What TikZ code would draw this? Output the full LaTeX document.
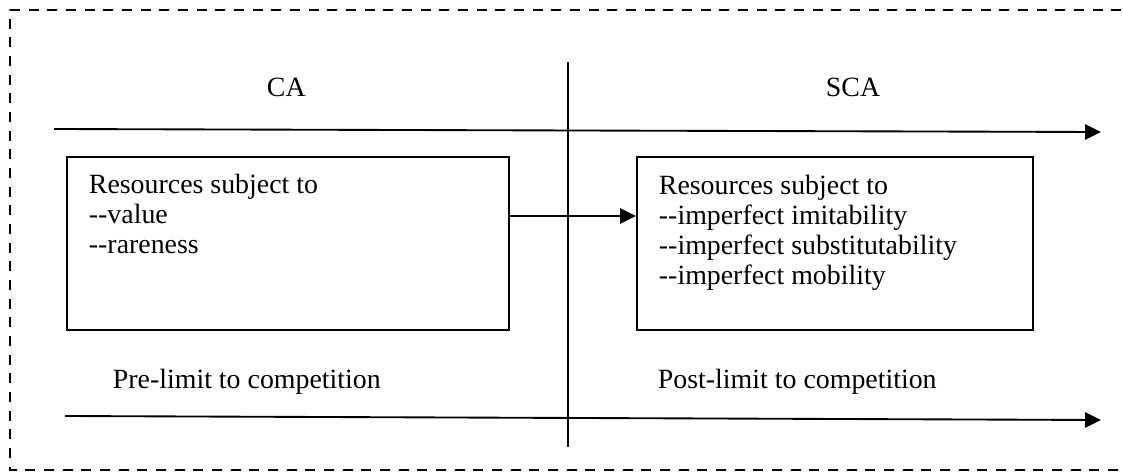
\documentclass[tikz,border=0pt]{standalone}
\usepackage{fontspec}
\setmainfont{Liberation Serif}[Ligatures=TeXOff]
\usetikzlibrary{arrows.meta}
\begin{document}
\begin{tikzpicture}[x=0.75pt,y=-0.75pt,
  line width=1.4pt,
  every node/.style={font=\fontsize{20.9}{22.5}\selectfont, inner sep=0pt},
  frame/.style={line width=1.7pt, dash pattern=on 7.5pt off 6.5pt},
  flow/.style={-{Triangle[length=12pt,width=11.5pt]}},
  resbox/.style={draw, rectangle, anchor=north west, minimum height=129.75pt},
  label/.style={anchor=base west},
  listtext/.style={anchor=north west, align=left}]
  \useasboundingbox (0,0) rectangle (1123,471);

  % dashed surround (open on the right)
  \draw[frame] (1140,10) -- (10,10) -- (10,470) -- (1140,470);

  % divider between the two phases
  \coordinate (vtop) at (568,62);
  \coordinate (vbot) at (568,447);
  \draw (vtop) -- (vbot);

  % phase headings
  \node[label] (ca)  at (266,96) {CA};
  \node[label] (sca) at (825,96) {SCA};

  % upper time axis
  \coordinate (ts) at (54,129);
  \coordinate (te) at (1101,132);
  \draw[flow] (ts) -- (te);

  % resource boxes
  \node[resbox, minimum width=331.5pt] (lbox) at (66,156) {};
  \node[resbox, minimum width=297pt]   (rbox) at (636,156) {};
  \node[listtext] (ltext) at (88,173) {Resources subject to\\--value\\--rareness};
  \node[listtext] (rtext) at (658,174) {Resources subject to\\--imperfect imitability\\--imperfect substitutability\\--imperfect mobility};

  \coordinate (mid) at (0,216);
  \draw[flow] (lbox.east |- mid) -- (rbox.west |- mid);

  % limits to competition
  \node[label] (pre)  at (112,388) {Pre-limit to competition};
  \node[label] (post) at (657,388) {Post-limit to competition};

  % lower time axis
  \coordinate (bs) at (65,416);
  \coordinate (be) at (1101,420);
  \draw[flow] (bs) -- (be);
\end{tikzpicture}
\end{document}
